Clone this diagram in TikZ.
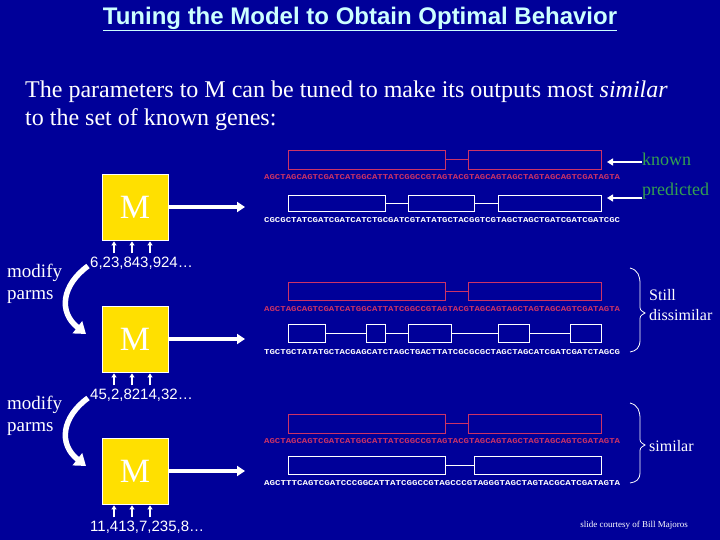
\documentclass[tikz,border=0pt]{standalone}
\usepackage{fontspec}
\setmainfont{Liberation Serif}
\newfontfamily\arial{Liberation Sans}
\newfontfamily\mono{Liberation Mono}
\usetikzlibrary{arrows.meta,calc}
\definecolor{bg}{HTML}{000099}
\definecolor{ttl}{HTML}{CCFFFF}
\definecolor{kn}{HTML}{CC3366}
\definecolor{gr}{HTML}{33A050}
\definecolor{mb}{HTML}{FFE000}
\tikzset{
 mbox/.style={fill=mb,draw=white,line width=0.8pt,minimum width=66pt,minimum height=66pt,inner sep=0pt,text=white,font=\fontsize{34}{34}\selectfont},
 kbox/.style={draw=kn,line width=0.8pt},
 pbox/.style={draw=white,line width=0.8pt},
 warr/.style={white,line width=3.5pt,-{Triangle[length=8pt,width=10pt]}},
 sarr/.style={white,line width=1.5pt,-{Triangle[length=4pt,width=5pt]}},
 larr/.style={white,line width=2pt,-{Triangle[length=6pt,width=7pt]}},
 curv/.style={white,line width=5.5pt,-{Triangle[length=11pt,width=15pt]}},
 seq/.style={inner sep=0pt,anchor=west},
 lbl/.style={text=white,font=\fontsize{19}{22}\selectfont,align=left,anchor=west,inner sep=0pt},
 slbl/.style={text=white,font=\fontsize{16}{20}\selectfont,align=left,anchor=west,inner sep=0pt},
 num/.style={text=white,font=\arial\fontsize{15}{18}\selectfont,anchor=west,inner sep=0pt},
 gtxt/.style={text=gr,font=\fontsize{18}{20}\selectfont,anchor=west,inner sep=0pt},
 brc/.style={white,line width=0.8pt},
}
\newcommand{\sq}[2]{\resizebox{356pt}{5pt}{\mono\bfseries\color{#1}#2}}
\newcommand{\kseq}{AGCTAGCAGTCGATCATGGCATTATCGGCCGTAGTACGTAGCAGTAGCTAGTAGCAGTCGATAGTA}
\begin{document}
\begin{tikzpicture}[x=1pt,y=-1pt]
\fill[bg] (0,0) rectangle (720,540);
\useasboundingbox (0,0) rectangle (720,540);
\node[text=ttl,font=\arial\bfseries\fontsize{24}{26}\selectfont] (title) at (360,19) {\underline{Tuning the Model to Obtain Optimal Behavior}};
\node[text=white,anchor=west,align=left,font=\fontsize{24}{28}\selectfont,inner sep=0pt] (intro) at (25,106) {The parameters to M can be tuned to make its outputs most \textit{similar}\\to the set of known genes:};
% M boxes
\foreach \i/\y in {1/207,2/339,3/471}{
 \node[mbox] (M\i) at (135,\y) {M};
 \coordinate (O\i) at (245,\y);
 \draw[warr] (M\i.east) -- (O\i);
 \foreach \dx in {-21,-3,15}{
  \coordinate (p\i\dx) at ($(M\i.south)+(\dx,13)$);
  \draw[sarr] (p\i\dx) -- ($(M\i.south)+(\dx,1)$);
 }
}
\node[num] (n1) at (90,263) {6,23,843,924\dots};
\node[num] (n2) at (90,395) {45,2,8214,32\dots};
\node[num] (n3) at (90,527) {11,413,7,235,8\dots};
% modify parms
\node[lbl] (mp1) at (7,284) {modify\\parms};
\node[lbl] (mp2) at (7,416) {modify\\parms};
\coordinate (c1a) at (88,266); \coordinate (c1b) at (86,334);
\coordinate (c2a) at (88,398); \coordinate (c2b) at (86,466);
\draw[curv] (c1a) .. controls (62,285) and (58,312) .. (c1b);
\draw[curv] (c2a) .. controls (62,417) and (58,444) .. (c2b);
% row 1
\draw[kbox] (288,150) rectangle (445,169); \draw[kbox] (445,159.5) -- (468,159.5); \draw[kbox] (468,150) rectangle (601,169);
\node[seq] (s1k) at (264,177) {\sq{kn}{\kseq}};
\draw[pbox] (288,195) rectangle (385,211); \draw[pbox] (385,203) -- (408,203); \draw[pbox] (408,195) rectangle (474,211);
\draw[pbox] (474,203) -- (498,203); \draw[pbox] (498,195) rectangle (601,211);
\node[seq] (s1p) at (264,220) {\sq{white}{CGCGCTATCGATCGATCATCTGCGATCGTATATGCTACGGTCGTAGCTAGCTGATCGATCGATCGC}};
\node[gtxt] (known) at (642,159) {known};
\node[gtxt] (pred) at (642,191) {predicted};
\draw[larr] (known.west) ++(0,3) coordinate (kt) -- (607,162);
\draw[larr] (642,198) coordinate (pt) -- (607,198);
% row 2
\draw[kbox] (288,282) rectangle (445,300); \draw[kbox] (445,291) -- (468,291); \draw[kbox] (468,282) rectangle (601,300);
\node[seq] (s2k) at (264,309) {\sq{kn}{\kseq}};
\draw[pbox] (288,324) rectangle (325,342); \draw[pbox] (325,333) -- (366,333);
\draw[pbox] (366,324) rectangle (385,342); \draw[pbox] (385,333) -- (408,333);
\draw[pbox] (408,324) rectangle (451,342); \draw[pbox] (451,333) -- (498,333);
\draw[pbox] (498,324) rectangle (529,342); \draw[pbox] (529,333) -- (570,333);
\draw[pbox] (570,324) rectangle (601,342);
\node[seq] (s2p) at (264,352) {\sq{white}{TGCTGCTATATGCTACGAGCATCTAGCTGACTTATCGCGCGCTAGCTAGCATCGATCGATCTAGCG}};
\draw[brc] (630,268) .. controls (638,270) and (640,276) .. (640,284) -- (640,305) .. controls (640,310) .. (645,313)
  .. controls (640,316) .. (640,321) -- (640,340) .. controls (640,348) and (636,351) .. (630,352);
\node[slbl] (still) at (649,305) {Still\\dissimilar};
% row 3
\draw[kbox] (288,414) rectangle (445,433); \draw[kbox] (445,423.5) -- (468,423.5); \draw[kbox] (468,414) rectangle (601,433);
\node[seq] (s3k) at (264,441) {\sq{kn}{\kseq}};
\draw[pbox] (288,456) rectangle (445,474); \draw[pbox] (445,465) -- (474,465); \draw[pbox] (474,456) rectangle (601,474);
\node[seq] (s3p) at (264,483) {\sq{white}{AGCTTTCAGTCGATCCCGGCATTATCGGCCGTAGCCCGTAGGGTAGCTAGTACGCATCGATAGTA}};
\draw[brc] (630,403) .. controls (638,405) and (640,411) .. (640,419) -- (640,437) .. controls (640,442) .. (645,445)
  .. controls (640,448) .. (640,453) -- (640,472) .. controls (640,480) and (636,482) .. (630,483);
\node[slbl] (sim) at (649,446) {similar};
\node[text=white,font=\fontsize{9}{10}\selectfont,inner sep=0pt] (credit) at (634,525) {slide courtesy of Bill Majoros};
\end{tikzpicture}
\end{document}
